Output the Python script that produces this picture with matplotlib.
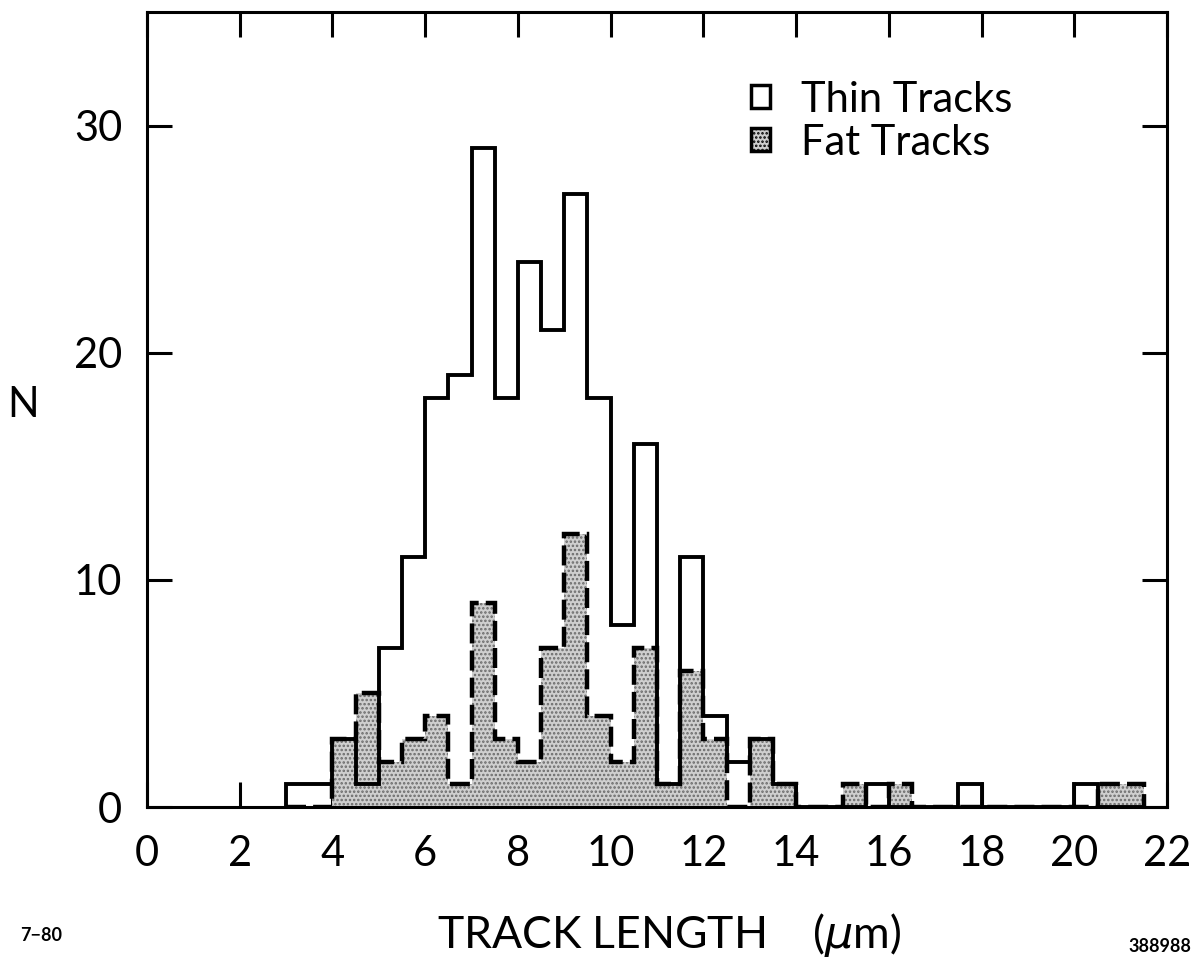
import numpy as np
import matplotlib
matplotlib.use("Agg")
import matplotlib.pyplot as plt
from matplotlib.patches import Patch

# Track-length histogram, 0.5 um bins starting at 3.0 um
bin_width = 0.5
bin_start = 3.0
thin_counts = [1, 1, 3, 1, 7, 11, 18, 19, 29, 18, 24, 21, 27, 18, 8, 16, 1, 11,
               4, 2, 3, 1, 0, 0, 0, 1, 0, 0, 0, 1, 0, 0, 0, 0, 1, 0, 0]
fat_counts = [0, 0, 3, 5, 2, 3, 4, 1, 9, 3, 2, 7, 12, 4, 2, 7, 1, 6,
              3, 0, 3, 1, 0, 0, 1, 0, 1, 0, 0, 0, 0, 0, 0, 0, 0, 1, 1]
x_ticks = list(range(0, 23, 2))
y_ticks = [0, 10, 20, 30]
labels = ["Thin Tracks", "Fat Tracks"]

edges = bin_start + bin_width * np.arange(len(thin_counts) + 1)

plt.rcParams["font.family"] = ["Lato", "DejaVu Sans"]
plt.rcParams["hatch.linewidth"] = 1.2
fig = plt.figure(figsize=(11.99, 9.65), dpi=100)
ax = fig.add_axes([0.1226, 0.1637, 0.8508, 0.8239])

stipple = "#cfcfcf"
dots = "#6a6a6a"
ax.stairs(fat_counts, edges, fill=True, facecolor=stipple, edgecolor=dots,
          linewidth=0, hatch="....", zorder=2)
ax.stairs(fat_counts, edges, color="black", lw=3.2,
          linestyle=(0, (4.5, 1.6)), zorder=3)
ax.stairs(thin_counts, edges, color="black", lw=2.8, zorder=4)

ax.set_xlim(0, 22)
ax.set_ylim(0, 35)
ax.set_xticks(x_ticks)
ax.set_yticks(y_ticks)
ax.tick_params(direction="in", length=18, width=2.2, labelsize=30,
               top=True, right=True)
ax.tick_params(axis="x", pad=20)
ax.tick_params(axis="y", pad=18)
for s in ax.spines.values():
    s.set_linewidth(2.2)
    s.set_zorder(5)

handles = [Patch(facecolor="white", edgecolor="black", lw=2.5),
           Patch(facecolor=stipple, edgecolor="black", lw=2.5, hatch="....")]
ax.legend(handles, labels, loc="upper left", bbox_to_anchor=(0.572, 0.94),
          frameon=False, fontsize=30, handlelength=0.45, handleheight=0.45,
          handletextpad=0.75, labelspacing=0.12, borderpad=0)

fig.text(0.006, 0.58, "N", fontsize=30, ha="left", va="center")
fig.text(0.558, 0.031, "TRACK LENGTH    ($\\mu$m)", fontsize=32,
         ha="center", va="center")
fig.text(0.017, 0.031, "7\u221280", fontsize=13, fontweight="bold",
         ha="left", va="center")
fig.text(0.994, 0.019, "388988", fontsize=13, fontweight="bold",
         ha="right", va="center")

fig.savefig("out.png", dpi=100)
